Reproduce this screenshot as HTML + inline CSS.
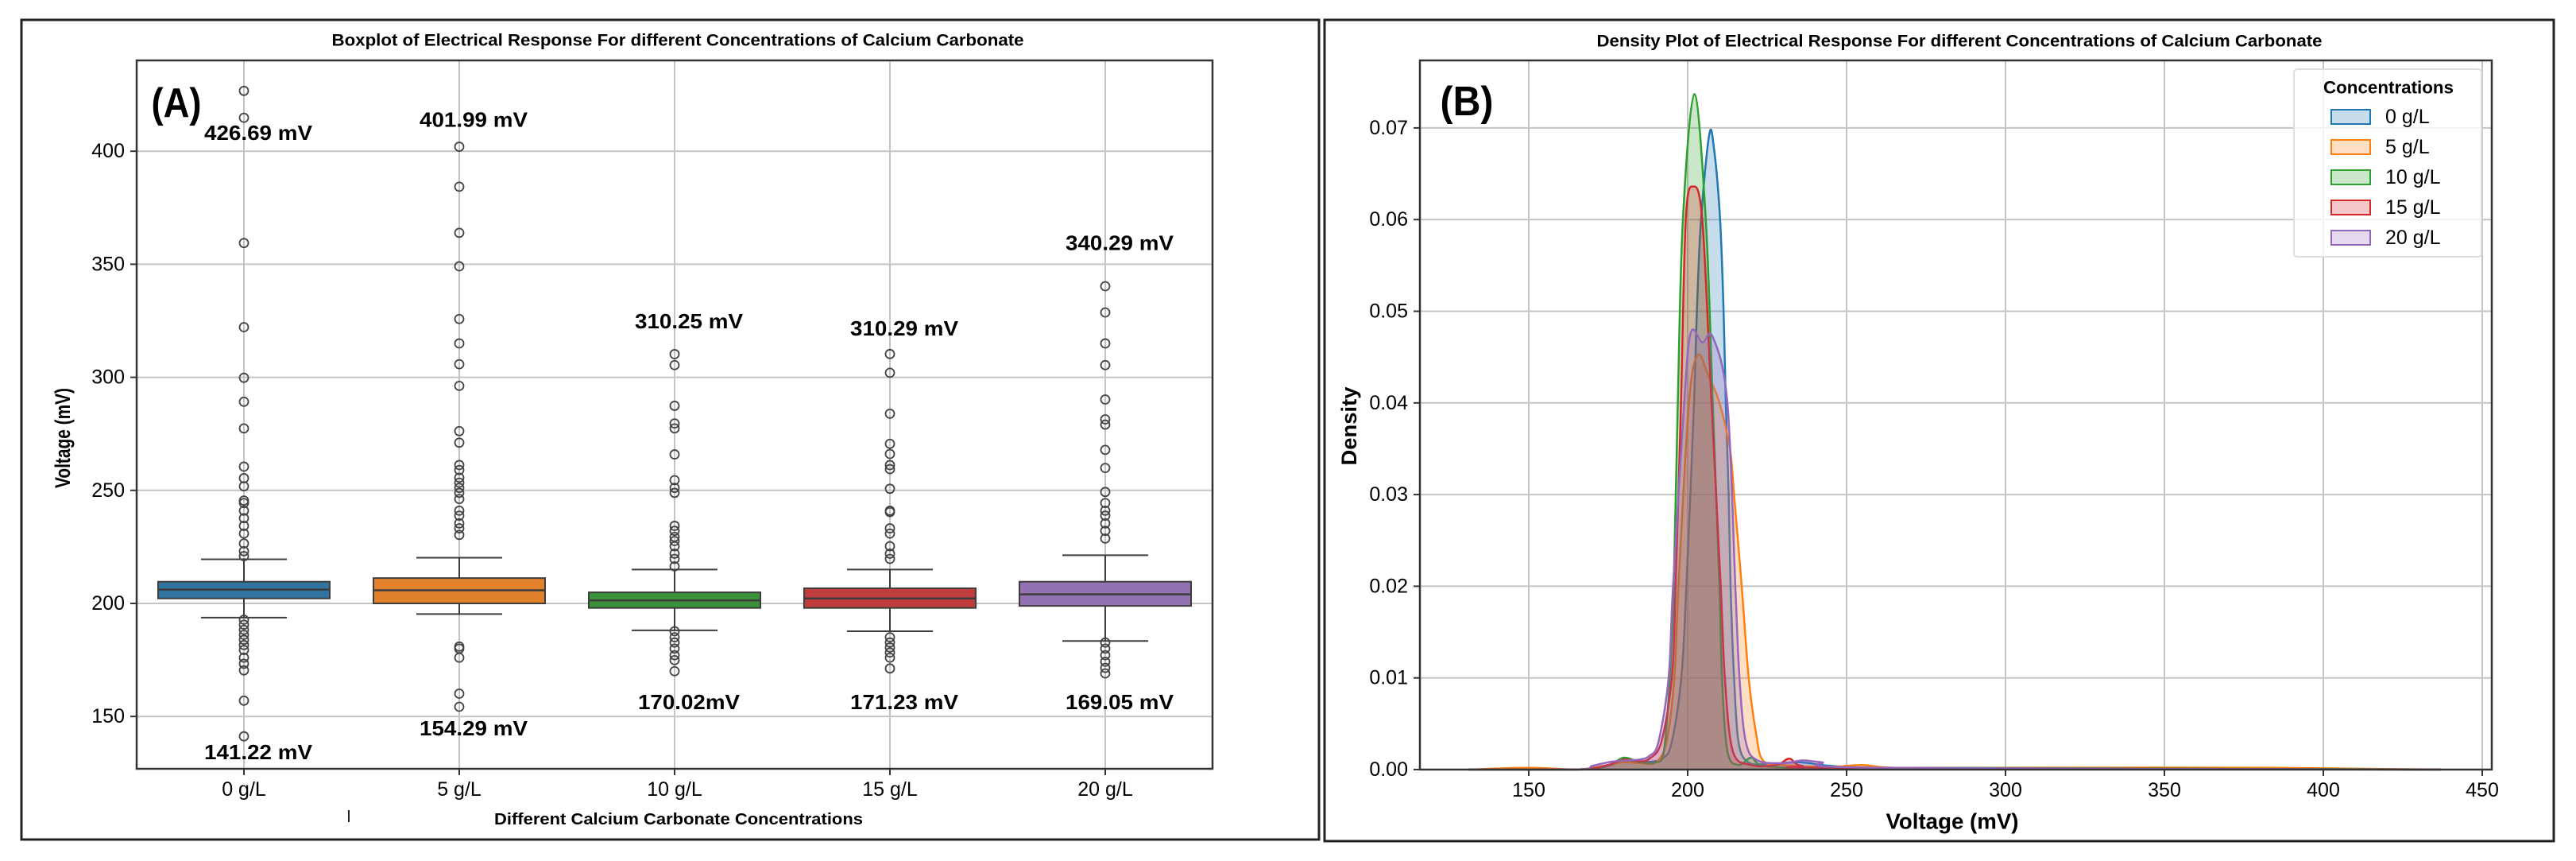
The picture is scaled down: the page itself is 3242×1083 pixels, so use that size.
<!DOCTYPE html>
<html><head><meta charset="utf-8"><style>
html,body{margin:0;padding:0;background:#fff;}
svg{display:block;font-family:"Liberation Sans",Arial,sans-serif;}
</style></head><body>
<svg id="fig" width="3242" height="1083" viewBox="0 0 3242 1083" xmlns="http://www.w3.org/2000/svg">
<rect x="0" y="0" width="3242" height="1083" fill="#fff"/>
<rect x="27" y="25" width="1633" height="1031" fill="none" stroke="#222" stroke-width="3"/>
<rect x="1667" y="25" width="1547" height="1033" fill="none" stroke="#222" stroke-width="3"/>
<g id="boxplot"></g>
<g id="density"></g>
</svg>
<script>
// ---------- Boxplot data ----------
const categories = ["0 g/L","5 g/L","10 g/L","15 g/L","20 g/L"];
const q1 = [202.2,200.0,198.0,198.0,198.9];
const medians = [206.1,205.8,201.3,202.2,204.0];
const q3 = [209.6,211.2,204.9,206.7,209.6];
const whiskLo = [193.7,195.3,188.1,187.7,183.4];
const whiskHi = [219.5,220.2,215.0,215.0,221.3];
const outliers0 = [426.69,414.8,359.4,322.2,299.8,289.2,277.4,260.5,255.4,251.8,245.5,244.4,241.0,237.7,234.3,230.9,226.5,223.1,220.9,192.8,190.6,188.3,186.1,183.9,181.6,179.4,176.0,173.3,170.4,157.0,141.22];
const outliers5 = [401.99,384.3,363.9,349.1,325.8,315.0,305.8,296.2,276.2,271.1,261.2,259.0,255.6,253.4,251.1,248.9,246.2,241.0,238.8,235.4,233.2,230.3,180.9,180.0,176.0,160.1,154.29];
const outliers10 = [310.25,305.4,287.4,279.6,277.4,265.9,254.5,251.1,248.9,234.3,232.1,229.4,227.6,225.3,222.0,219.7,216.4,187.7,185.0,182.7,180.0,177.1,174.9,170.02];
const outliers15 = [310.29,302.0,283.9,270.6,266.1,261.2,259.4,250.7,241.0,240.4,233.2,230.9,225.3,222.0,219.7,185.0,182.7,180.5,178.3,176.0,171.23];
const outliers20 = [340.29,328.7,315.0,305.4,290.2,281.4,279.1,267.9,259.9,249.3,244.4,241.0,238.8,235.4,232.1,228.7,182.7,180.0,177.1,174.2,171.5,169.05];
const maxLabels = ["426.69 mV","401.99 mV","310.25 mV","310.29 mV","340.29 mV"];
const minLabels = ["141.22 mV","154.29 mV","170.02mV","171.23 mV","169.05 mV"];
const maxLabelY = [408.2,414.0,324.8,321.7,359.5];
const minLabelY = [134.2,144.8,156.4,156.4,156.4];
const yTicksA = [150,200,250,300,350,400];
const boxColors = ["#3274a1","#e1812c","#3a923a","#c03d3e","#9372b2"];

// ---------- Density data ----------
const dens0x = [131,165,175,180,186,192,195,198,199.6,202,202.9,204.2,206.8,208.3,210.2,211.3,212,212.9,213.5,214.6,216,219,225,235,245,260,300,380,437];
const dens0y = [0,0,0.0004,0.001,0.0008,0.0012,0.003,0.01,0.02,0.04,0.05,0.06,0.0693,0.0677,0.06,0.05,0.04,0.03,0.02,0.01,0.003,0.0008,0.0006,0.0008,0.0004,0.0002,0.0002,0.0001,0];
const dens5x = [131,150,165,175,180,185,190,193.3,195.8,197.1,200.4,203.2,206.5,210,213.3,214.6,217,219.2,221.5,223.7,230,245,255,265,300,385,437];
const dens5y = [0,0.0002,0,0.0005,0.0008,0.0007,0.0008,0.003,0.01,0.02,0.04,0.0452,0.043,0.04,0.035,0.03,0.02,0.01,0.004,0.001,0.0005,0.0003,0.0005,0.0002,0.0002,0.0002,0];
const dens10x = [131,165,175,180,185,190,192.5,194.4,195.6,196.9,198.5,202.1,205.7,207.9,210,210.8,212.5,216,220,224,240,280,437];
const dens10y = [0,0,0.0005,0.0013,0.0008,0.0008,0.002,0.01,0.02,0.04,0.06,0.0737,0.06,0.04,0.02,0.01,0.002,0.0005,0.0013,0.0004,0.0002,0.0002,0];
const dens15x = [131,165,175,180,185,188,191.7,195,196.2,197.9,199.4,201.7,204.6,207.5,210.4,211.7,214.2,220,228,232,236,250,437];
const dens15y = [0,0,0.0005,0.0011,0.0009,0.0012,0.003,0.01,0.02,0.04,0.06,0.0636,0.06,0.04,0.02,0.01,0.002,0.0005,0.0005,0.0012,0.0004,0.0002,0];
const dens20x = [131,165,170,175,180,185,188,190.8,194,195.4,198.9,201,204.6,207.9,212.5,215,216.3,218.3,222,230,236,242,260,437];
const dens20y = [0,0,0.0004,0.0008,0.001,0.0011,0.0015,0.003,0.01,0.02,0.04,0.0477,0.0466,0.0472,0.04,0.02,0.01,0.003,0.001,0.0007,0.001,0.0008,0.0002,0];
const densLabels = ["0 g/L","5 g/L","10 g/L","15 g/L","20 g/L"];
const densColors = ["#1f77b4","#ff7f0e","#2ca02c","#d62728","#9467bd"];
const xTicksB = [150,200,250,300,350,400,450];
const yTicksB = [0,0.01,0.02,0.03,0.04,0.05,0.06,0.07];

const NS = "http://www.w3.org/2000/svg";
function mk(parent, tag, attrs, name) {
  const el = document.createElementNS(NS, tag);
  for (const k in attrs) el.setAttribute(k, attrs[k]);
  
  
  parent.appendChild(el);
  return el;
}
function txt(parent, x, y, s, size, weight, anchor, name, len, rot) {
  const el = document.createElementNS(NS, "text");
  el.setAttribute("x", x); el.setAttribute("y", y);
  el.setAttribute("font-size", size);
  el.setAttribute("font-weight", weight);
  el.setAttribute("text-anchor", anchor);
  el.setAttribute("dominant-baseline", "central");
  el.setAttribute("fill", "#000");
  if (len) { el.setAttribute("textLength", len); el.setAttribute("lengthAdjust", "spacingAndGlyphs"); }
  if (rot) el.setAttribute("transform", "rotate(" + rot + " " + x + " " + y + ")");
  el.textContent = s;
  
  
  parent.appendChild(el);
  return el;
}

// ---------- Panel A ----------
(function(){
  const g = document.getElementById("boxplot");
  const L = 172, R = 1526, T = 76, B = 967;
  const y = v => 759 - (v - 200) * 2.844;
  const xc = i => 307 + i * 271;
  const bw = 216;
  yTicksA.forEach(t => {
    mk(g, "line", {x1:L, x2:R, y1:y(t), y2:y(t), stroke:"#c4c4c4", "stroke-width":2}, "y-gridline");
    mk(g, "line", {x1:L-8, x2:L, y1:y(t), y2:y(t), stroke:"#333", "stroke-width":2}, "y-tick");
    txt(g, 157, y(t), String(t), 25, "normal", "end", "y-tick-label");
  });
  categories.forEach((c, i) => {
    mk(g, "line", {x1:xc(i), x2:xc(i), y1:T, y2:B, stroke:"#c4c4c4", "stroke-width":2}, "x-gridline");
    mk(g, "line", {x1:xc(i), x2:xc(i), y1:B, y2:B+8, stroke:"#333", "stroke-width":2}, "x-tick");
    txt(g, xc(i), 993, c, 25, "normal", "middle", "x-tick-label");
  });
  const outs = [outliers0, outliers5, outliers10, outliers15, outliers20];
  categories.forEach((c, i) => {
    const x = xc(i);
    mk(g, "line", {x1:x, x2:x, y1:y(q3[i]), y2:y(whiskHi[i]), stroke:"#3d3d3d", "stroke-width":2}, "whisker-upper");
    mk(g, "line", {x1:x, x2:x, y1:y(q1[i]), y2:y(whiskLo[i]), stroke:"#3d3d3d", "stroke-width":2}, "whisker-lower");
    mk(g, "line", {x1:x-bw/4, x2:x+bw/4, y1:y(whiskHi[i]), y2:y(whiskHi[i]), stroke:"#3d3d3d", "stroke-width":2}, "whisker-cap-upper");
    mk(g, "line", {x1:x-bw/4, x2:x+bw/4, y1:y(whiskLo[i]), y2:y(whiskLo[i]), stroke:"#3d3d3d", "stroke-width":2}, "whisker-cap-lower");
    mk(g, "rect", {x:x-bw/2, y:y(q3[i]), width:bw, height:y(q1[i])-y(q3[i]), fill:boxColors[i], stroke:"#3d3d3d", "stroke-width":2}, "box-" + c.replace(/\s|\//g,""));
    mk(g, "line", {x1:x-bw/2, x2:x+bw/2, y1:y(medians[i]), y2:y(medians[i]), stroke:"#3d3d3d", "stroke-width":2.5}, "median-line");
    outs[i].forEach(v => {
      mk(g, "ellipse", {cx:x, cy:y(v), rx:5.5, ry:5.5, fill:"none", stroke:"#444", "stroke-width":1.8}, "outlier-point");
    });
    txt(g, x+18, y(maxLabelY[i]), maxLabels[i], 26, "bold", "middle", "max-annotation", 136);
    txt(g, x+18, y(minLabelY[i]), minLabels[i], 26, "bold", "middle", "min-annotation", minLabels[i].length===8?128:136);
  });
  mk(g, "rect", {x:L, y:T, width:R-L, height:B-T, fill:"none", stroke:"#333", "stroke-width":2.5}, "plot-area-a");
  txt(g, 853, 51, "Boxplot of Electrical Response For different Concentrations of Calcium Carbonate", 21, "bold", "middle", "chart-title-a", 871);
  txt(g, 222, 130, "(A)", 52, "bold", "middle", "panel-label-a", 63);
  txt(g, 79, 551, "Voltage (mV)", 27, "bold", "middle", "y-axis-title-a", 126, -90);
  txt(g, 854, 1031, "Different Calcium Carbonate Concentrations", 20, "bold", "middle", "x-axis-title-a", 464);
  txt(g, 439, 1028, "l", 20, "normal", "middle", "stray-mark");
})();

// ---------- Panel B ----------
(function(){
  const g = document.getElementById("density");
  const L = 1787, R = 3136, T = 76, B = 968;
  const x = v => 2124 + (v - 200) * 4.0;
  const y = d => 968 - d * 11530;
  xTicksB.forEach(t => {
    mk(g, "line", {x1:x(t), x2:x(t), y1:T, y2:B, stroke:"#c4c4c4", "stroke-width":2}, "x-gridline");
    mk(g, "line", {x1:x(t), x2:x(t), y1:B, y2:B+8, stroke:"#333", "stroke-width":2}, "x-tick");
    txt(g, x(t), 994, String(t), 25, "normal", "middle", "x-tick-label");
  });
  yTicksB.forEach(t => {
    mk(g, "line", {x1:L, x2:R, y1:y(t), y2:y(t), stroke:"#c4c4c4", "stroke-width":2}, "y-gridline");
    mk(g, "line", {x1:L-8, x2:L, y1:y(t), y2:y(t), stroke:"#333", "stroke-width":2}, "y-tick");
    txt(g, 1772, y(t), t.toFixed(2), 25, "normal", "end", "y-tick-label");
  });
  const xs = [dens0x, dens5x, dens10x, dens15x, dens20x];
  const ys = [dens0y, dens5y, dens10y, dens15y, dens20y];
  function smooth(px, py) {
    let d = "M" + px[0] + "," + py[0];
    for (let i = 0; i < px.length - 1; i++) {
      const i0 = Math.max(0, i-1), i3 = Math.min(px.length-1, i+2);
      const c1x = px[i] + (px[i+1]-px[i0])/6, c1y = py[i] + (py[i+1]-py[i0])/6;
      const c2x = px[i+1] - (px[i3]-px[i])/6, c2y = py[i+1] - (py[i3]-py[i])/6;
      d += " C" + c1x.toFixed(1) + "," + Math.min(B, c1y).toFixed(1) + " " + c2x.toFixed(1) + "," + Math.min(B, c2y).toFixed(1) + " " + px[i+1].toFixed(1) + "," + py[i+1].toFixed(1);
    }
    return d;
  }
  xs.forEach((arr, k) => {
    const px = arr.map(x), py = ys[k].map(y);
    const line = smooth(px, py);
    mk(g, "path", {d: line + " L" + px[px.length-1] + "," + B + " L" + px[0] + "," + B + " Z", fill:densColors[k], "fill-opacity":0.25, stroke:"none"}, "density-fill-" + densLabels[k].replace(/\s|\//g,""));
    mk(g, "path", {d: line, fill:"none", stroke:densColors[k], "stroke-width":2.5}, "density-line-" + densLabels[k].replace(/\s|\//g,""));
  });
  mk(g, "rect", {x:L, y:T, width:R-L, height:B-T, fill:"none", stroke:"#333", "stroke-width":2.5}, "plot-area-b");
  txt(g, 2466, 52, "Density Plot of Electrical Response For different Concentrations of Calcium Carbonate", 21, "bold", "middle", "chart-title-b", 913);
  txt(g, 1846, 128, "(B)", 52, "bold", "middle", "panel-label-b", 67);
  txt(g, 1698, 536, "Density", 27, "bold", "middle", "y-axis-title-b", 99, -90);
  txt(g, 2457, 1033, "Voltage (mV)", 28, "bold", "middle", "x-axis-title-b", 167);
  const lg = mk(g, "g", {}, "legend");
  mk(lg, "rect", {x:2887, y:87, width:236, height:236, rx:4, fill:"#fff", "fill-opacity":0.8, stroke:"#ddd", "stroke-width":2}, "legend-box");
  txt(lg, 3006, 110, "Concentrations", 22, "bold", "middle", "legend-title", 164);
  densLabels.forEach((lab, k) => {
    const cy = 147 + k * 38;
    mk(lg, "rect", {x:2934, y:cy-9, width:49, height:18, fill:densColors[k], "fill-opacity":0.25, stroke:densColors[k], "stroke-width":2}, "legend-swatch");
    txt(lg, 3002, cy, lab, 25, "normal", "start", "legend-entry");
  });
})();
</script>
</body></html>
